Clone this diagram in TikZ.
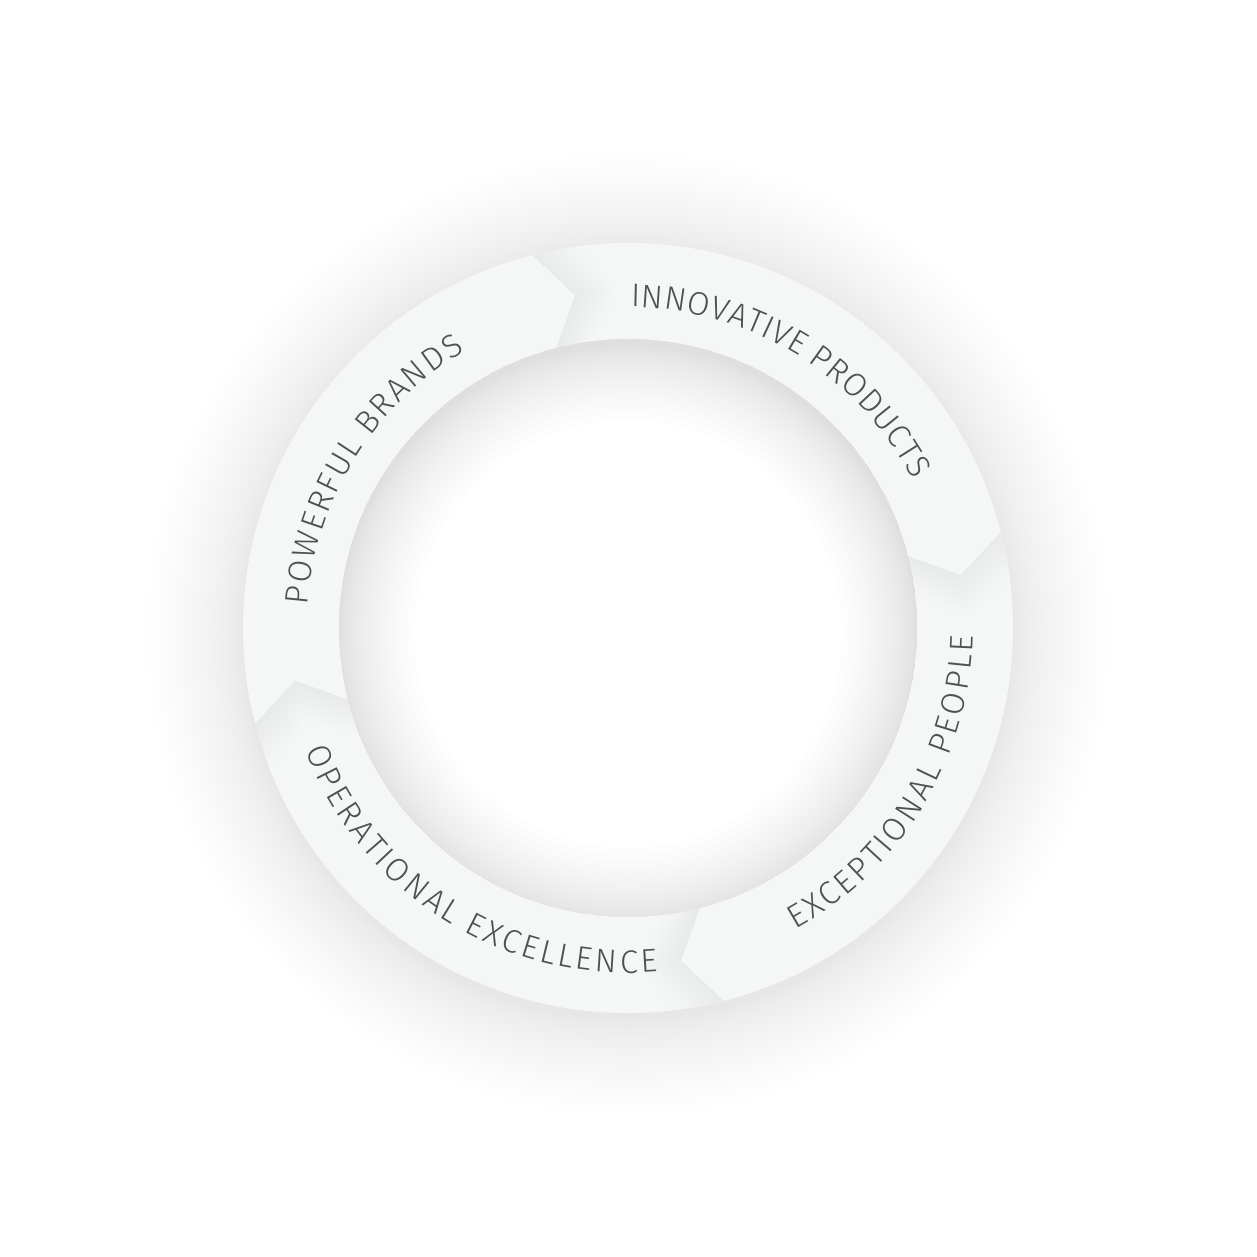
\documentclass[tikz,border=0pt]{standalone}
\usepackage{fontspec}
\usepackage{xcolor}
\usetikzlibrary{decorations.text}
\newfontfamily\labelfont{Fira Sans Light}
\newcommand\ringsize{\labelfont\fontsize{9.3}{11}\selectfont}
\definecolor{ringfill}{RGB}{245,246,246}
\definecolor{labelgrey}{RGB}{74,82,82}
\tikzset{
  segment/.style={fill=ringfill},
  groundshadow/.style={fill=black, fill opacity=0.005},
  holeshadow/.style={fill=black, fill opacity=0.007, even odd rule},
  headshadow/.style={fill=black, fill opacity=0.005},
  ringlabel/.style={decorate, decoration={text effects along path, text={#1},
      text effects/.cd, text along path, fit text to path,
      characters={font=\ringsize, text=labelgrey, inner sep=0pt, anchor=base},
      character widths={font=\ringsize, inner sep=0pt}}},
}
\def\Rout{3.85}
\def\Rin{2.89}
\def\Rmid{3.37}
\def\hd{5.4}

\begin{document}
\begin{tikzpicture}
    \fill[white] (-6.28,-6.29) rectangle (6.29,6.28);
    \useasboundingbox (-6.28,-6.29) rectangle (6.29,6.28);

    % Soft shadow under the ring
    \foreach \k in {1,...,24}
        \fill[groundshadow] (0,-0.06) circle ({\Rout+0.95*(\k/24)^1.5});

    % Ring segments, head of each one at angle \h
    \foreach \h in {99, 9, -81, -171} {
        \pgfmathsetmacro\s{\h+90}
        \fill[segment] (\s+\hd:\Rout) arc[start angle=\s+\hd, end angle=\h+\hd, radius=\Rout]
            -- (\h:\Rmid) -- (\h+\hd:\Rin)
            arc[start angle=\h+\hd, end angle=\s+\hd, radius=\Rin] -- (\s:\Rmid) -- cycle;
    }

    % Shadow next to each arrow head
    \foreach \t/\dir in {99/-1, 9/-1, -81/-1, 189/1} {
        \foreach \k in {1,...,12} {
            \pgfmathsetmacro\u{\t+\dir*0.6*\k}
            \fill[headshadow] (\t+\hd:\Rout) -- (\t:\Rmid) -- (\t+\hd:\Rin)
                arc[start angle=\t+\hd, end angle=\u+\hd, radius=\Rin] -- (\u:\Rmid) -- (\u+\hd:\Rout)
                arc[start angle=\u+\hd, end angle=\t+\hd, radius=\Rout] -- cycle;
        }
    }

    % Hole with inner shadow
    \begin{scope}
        \clip (0,0) circle (\Rin);
        \fill[white] (0,0) circle (\Rin);
        \foreach \k in {1,...,16}
            \fill[holeshadow] (0,0) circle (3.6) (0,-0.06) circle ({\Rin-0.75*(\k/16)^1.5});
    \end{scope}

    % Labels along the ring
    \path[ringlabel=POWERFUL BRANDS] (176:3.21) arc[start angle=176, end angle=120.5, radius=3.21];
    \path[ringlabel=INNOVATIVE PRODUCTS] (89.5:3.21) arc[start angle=89.5, end angle=27.5, radius=3.21];
    \path[ringlabel=EXCEPTIONAL PEOPLE] (-61:3.45) arc[start angle=-61, end angle=-1.2, radius=3.45];
    \path[ringlabel=OPERATIONAL EXCELLENCE] (200.8:3.45) arc[start angle=200.8, end angle=275, radius=3.45];
\end{tikzpicture}
\end{document}
